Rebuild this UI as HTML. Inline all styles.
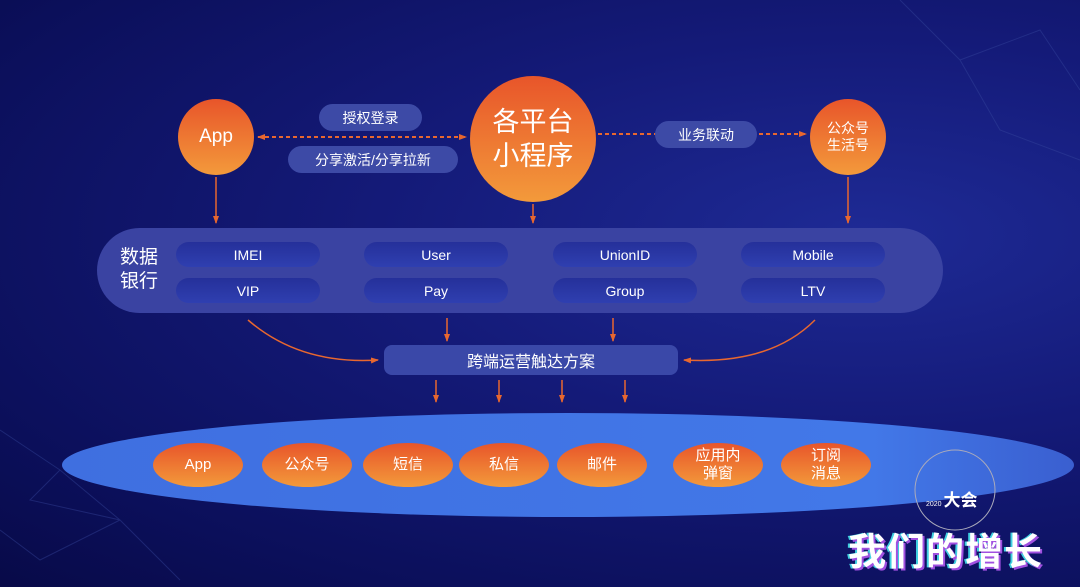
<!DOCTYPE html>
<html><head><meta charset="utf-8"><style>
body{margin:0;width:1080px;height:587px;overflow:hidden;font-family:"Liberation Sans","Noto Sans CJK SC",sans-serif;}
.bg{position:absolute;left:0;top:0;width:1080px;height:587px;background:radial-gradient(ellipse at 80% 40%,#1e2a95 0%,#141a78 40%,#0b0f5a 80%,#080a48 100%);}
.c{position:absolute;border-radius:50%;background:linear-gradient(#e8552a,#f39a3b);color:#fff;display:flex;align-items:center;justify-content:center;text-align:center;}
.p{position:absolute;border-radius:20px;color:#fff;display:flex;align-items:center;justify-content:center;font-size:14px;}
.t{background:#3d4aa6;}
.i{background:linear-gradient(#25309a,#2f3fb0);width:144px;height:25px;font-size:14px;}
.o{position:absolute;border-radius:50%;background:linear-gradient(#e8552a,#f39a3b);color:#fff;display:flex;align-items:center;justify-content:center;text-align:center;font-size:15px;line-height:18px;width:90px;height:44px;}
</style></head><body>
<div class="bg"></div>
<svg style="position:absolute;left:0;top:0" width="1080" height="587">
<defs><marker id="a" markerUnits="userSpaceOnUse" markerWidth="8" markerHeight="8" refX="7" refY="4" orient="auto"><path d="M0,1 L8,4 L0,7z" fill="#e8672f"/></marker>
<marker id="b" markerUnits="userSpaceOnUse" markerWidth="8" markerHeight="8" refX="1" refY="4" orient="auto"><path d="M8,1 L0,4 L8,7z" fill="#e8672f"/></marker>
<linearGradient id="e" x1="0" x2="1"><stop offset="0" stop-color="#3f6fe0"/><stop offset="0.8" stop-color="#4278e8"/><stop offset="1" stop-color="#3a5fd0"/></linearGradient></defs>
<g stroke="#3a4aa0" stroke-width="1" opacity="0.4" fill="none">
<path d="M0,430 L60,470 L120,520 L40,560 L0,530 M60,470 L30,500 L120,520 L180,580"/>
<path d="M900,0 L960,60 L1040,30 L1080,90 M960,60 L1000,130 L1080,160"/>
</g>
<line x1="258" y1="137" x2="466" y2="137" stroke="#e8672f" stroke-width="2" stroke-dasharray="4,3" marker-end="url(#a)" marker-start="url(#b)"/>
<line x1="598" y1="134" x2="806" y2="134" stroke="#e8672f" stroke-width="2" stroke-dasharray="4,3" marker-end="url(#a)"/>
<g stroke="#e8672f" stroke-width="1.5" fill="none" marker-end="url(#a)">
<line x1="216" y1="177" x2="216" y2="223"/><line x1="533" y1="204" x2="533" y2="223"/><line x1="848" y1="177" x2="848" y2="223"/>
<line x1="447" y1="318" x2="447" y2="341"/><line x1="613" y1="318" x2="613" y2="341"/>
<path d="M248,320 Q300,365 378,360"/><path d="M815,320 Q770,365 684,360"/>
<line x1="436" y1="380" x2="436" y2="402"/><line x1="499" y1="380" x2="499" y2="402"/><line x1="562" y1="380" x2="562" y2="402"/><line x1="625" y1="380" x2="625" y2="402"/>
</g>
<ellipse cx="568" cy="465" rx="506" ry="52" fill="url(#e)"/>
<circle cx="955" cy="490" r="40" fill="none" stroke="#aab" stroke-width="1"/>
</svg>
<div class="c" style="left:178px;top:99px;width:76px;height:76px;font-size:19px">App</div>
<div class="c" style="left:470px;top:76px;width:126px;height:126px;font-size:27px;line-height:34px">各平台<br>小程序</div>
<div class="c" style="left:810px;top:99px;width:76px;height:76px;font-size:14px;line-height:17px">公众号<br>生活号</div>
<div class="p t" style="left:319px;top:104px;width:103px;height:27px">授权登录</div>
<div class="p t" style="left:288px;top:146px;width:170px;height:27px">分享激活/分享拉新</div>
<div class="p t" style="left:655px;top:121px;width:102px;height:27px">业务联动</div>
<div style="position:absolute;left:97px;top:228px;width:846px;height:85px;border-radius:43px;background:#3a43a2"></div>
<div style="position:absolute;left:120px;top:246px;color:#fff;font-size:19px;line-height:24px">数据<br>银行</div>
<div class="p i" style="left:176px;top:242px">IMEI</div><div class="p i" style="left:176px;top:278px">VIP</div>
<div class="p i" style="left:364px;top:242px">User</div><div class="p i" style="left:364px;top:278px">Pay</div>
<div class="p i" style="left:553px;top:242px">UnionID</div><div class="p i" style="left:553px;top:278px">Group</div>
<div class="p i" style="left:741px;top:242px">Mobile</div><div class="p i" style="left:741px;top:278px">LTV</div>
<div class="p t" style="left:384px;top:345px;width:294px;height:30px;font-size:16px;border-radius:8px;background:#3a48a8">跨端运营触达方案</div>
<div class="o" style="left:153px;top:443px">App</div>
<div class="o" style="left:262px;top:443px">公众号</div>
<div class="o" style="left:363px;top:443px">短信</div>
<div class="o" style="left:459px;top:443px">私信</div>
<div class="o" style="left:557px;top:443px">邮件</div>
<div class="o" style="left:673px;top:443px">应用内<br>弹窗</div>
<div class="o" style="left:781px;top:443px">订阅<br>消息</div>
<div style="position:absolute;left:926px;top:486px;color:#fff;font-size:7px">2020 <span style="font-size:17px;font-weight:bold">大会</span></div>
<div style="position:absolute;left:848px;top:521px;color:#fff;font-size:38px;font-weight:bold;letter-spacing:1px;text-shadow:2px 2px 0 #a050e0,-2px 0 0 #40d0e0">我们的增长</div>
</body></html>
